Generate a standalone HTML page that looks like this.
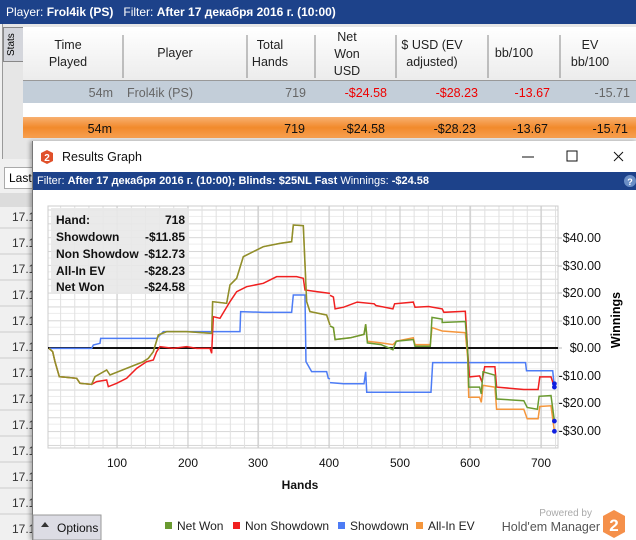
<!DOCTYPE html>
<html><head><meta charset="utf-8"><style>
body{margin:0;width:636px;height:540px;overflow:hidden;background:#f0f0f0;font-family:"Liberation Sans",sans-serif;position:relative}
.a{position:absolute}
</style></head><body>
<div class="a" style="left:0;top:0;width:636px;height:24px;background:#1d428a;color:#fff;font-size:12px;line-height:24px;padding-left:6px">Player: <b>Frol4ik (PS)</b>&nbsp;&nbsp; Filter: <b>After 17 декабря 2016 г. (10:00)</b></div>
<div class="a" style="left:2px;top:24px;width:634px;height:135px;background:#e6e6e6;border-left:1px solid #999"></div>
<div class="a" style="left:3px;top:27px;width:19px;height:33px;background:#d4d6dc;border:1px solid #888"></div>
<div class="a" style="font-size:10px;transform:rotate(-90deg);transform-origin:left top;top:56px;left:6px">Stats</div>
<div class="a" style="left:23px;top:27px;width:613px;height:53px;background:linear-gradient(#fff,#ececec);border-bottom:1px solid #999"></div>
<div class="a" style="left:23px;top:81px;width:613px;height:22px;background:#c3ced9"></div>
<div class="a" style="left:23px;top:103px;width:613px;height:14px;background:#fff"></div>
<div class="a" style="left:23px;top:117px;width:613px;height:21px;background:linear-gradient(#f8b070,#f28a2c 50%,#f7a050)"></div>
<svg class="a" style="left:0;top:0" width="636" height="140">
<g stroke="#888"><line x1="123" y1="35" x2="123" y2="78"/><line x1="247" y1="35" x2="247" y2="78"/><line x1="315" y1="35" x2="315" y2="78"/><line x1="396" y1="35" x2="396" y2="78"/><line x1="488" y1="35" x2="488" y2="78"/><line x1="560" y1="35" x2="560" y2="78"/></g>
<g font-family="Liberation Sans" font-size="12.5" fill="#222" text-anchor="middle">
<text x="68" y="49">Time</text><text x="68" y="66">Played</text>
<text x="175" y="57">Player</text>
<text x="270" y="49">Total</text><text x="270" y="66">Hands</text>
<text x="347" y="41">Net</text><text x="347" y="58">Won</text><text x="347" y="75">USD</text>
<text x="432" y="49">$ USD (EV</text><text x="432" y="66">adjusted)</text>
<text x="514" y="57">bb/100</text>
<text x="590" y="49">EV</text><text x="590" y="66">bb/100</text>
</g>
<g font-family="Liberation Sans" font-size="12.5" text-anchor="end">
<text x="113" y="97" fill="#666">54m</text><text x="127" y="97" fill="#666" text-anchor="start">Frol4ik (PS)</text><text x="306" y="97" fill="#666">719</text>
<text x="387" y="97" fill="#e00">-$24.58</text><text x="478" y="97" fill="#e00">-$28.23</text><text x="550" y="97" fill="#e00">-13.67</text><text x="630" y="97" fill="#666">-15.71</text>
<text x="112" y="133" fill="#111">54m</text><text x="305" y="133" fill="#111">719</text><text x="385" y="133" fill="#111">-$24.58</text><text x="476" y="133" fill="#111">-$28.23</text><text x="548" y="133" fill="#111">-13.67</text><text x="628" y="133" fill="#111">-15.71</text>
</g></svg>
<div class="a" style="left:0;top:160px;width:32px;height:380px;background:#f0f0f0"></div>
<div class="a" style="left:4px;top:167px;width:40px;height:20px;background:#fff;border:1px solid #aaa;font-size:12px;line-height:20px;padding-left:4px">Last</div>
<div class="a" style="left:0;top:193px;width:32px;height:14px;background:#dcdcdc"></div>
<svg class="a" style="left:0;top:205px" width="32" height="335"><g font-family="Liberation Sans" font-size="12" fill="#333">
<text x="12" y="16">17.1</text><text x="12" y="42">17.1</text><text x="12" y="68">17.1</text><text x="12" y="94">17.1</text><text x="12" y="120">17.1</text><text x="12" y="146">17.1</text><text x="12" y="172">17.1</text><text x="12" y="198">17.1</text><text x="12" y="224">17.1</text><text x="12" y="250">17.1</text><text x="12" y="276">17.1</text><text x="12" y="302">17.1</text><text x="12" y="328">17.1</text></g>
<g stroke="#ccc"><line x1="0" y1="23" x2="32" y2="23"/><line x1="0" y1="49" x2="32" y2="49"/><line x1="0" y1="75" x2="32" y2="75"/><line x1="0" y1="101" x2="32" y2="101"/><line x1="0" y1="127" x2="32" y2="127"/><line x1="0" y1="153" x2="32" y2="153"/><line x1="0" y1="179" x2="32" y2="179"/><line x1="0" y1="205" x2="32" y2="205"/><line x1="0" y1="231" x2="32" y2="231"/><line x1="0" y1="257" x2="32" y2="257"/><line x1="0" y1="283" x2="32" y2="283"/><line x1="0" y1="309" x2="32" y2="309"/></g></svg>
<div class="a" style="left:32px;top:141px;width:604px;height:399px;background:#fff;border-left:1px solid #777;box-shadow:-2px 0 4px rgba(0,0,0,.3)"></div>
<div class="a" style="left:33px;top:172px;width:603px;height:18px;background:#1d428a;color:#fff;font-size:11px;line-height:18px;padding-left:4px">Filter: <b>After 17 декабря 2016 г. (10:00); Blinds: $25NL Fast</b> Winnings: <b>-$24.58</b></div>
<svg class="a" style="left:0;top:0" width="636" height="540">
<polygon points="47,150 53,153 53,161 47,164 41,161 41,153" fill="#e0502a"/><text x="47" y="161" font-size="10" font-weight="bold" fill="#fff" text-anchor="middle" font-family="Liberation Sans">2</text>
<text x="62" y="161" font-size="12.5" fill="#111" font-family="Liberation Sans">Results Graph</text>
<line x1="522" y1="157" x2="534" y2="157" stroke="#111"/><rect x="567" y="151" width="10" height="10" fill="none" stroke="#111"/>
<path d="M614,152 L623,161 M623,152 L614,161" stroke="#111"/>
<circle cx="630" cy="181" r="6" fill="#6b8fc6"/><text x="630" y="185" font-size="9" fill="#fff" text-anchor="middle" font-weight="bold">?</text>
<defs><pattern id="hg" x="0" y="348" width="600" height="13.85" patternUnits="userSpaceOnUse">
<line x1="0" y1="6.92" x2="600" y2="6.92" stroke="#ececec"/><line x1="0" y1="0.5" x2="600" y2="0.5" stroke="#d6d6d6"/></pattern>
<pattern id="vg" x="46" y="0" width="14.14" height="300" patternUnits="userSpaceOnUse"><line x1="0.5" y1="0" x2="0.5" y2="300" stroke="#e0e0e0"/></pattern></defs>
<rect x="48" y="206" width="510" height="242" fill="url(#hg)"/>
<rect x="48" y="206" width="510" height="242" fill="url(#vg)"/>
<g stroke="#c8c8c8"><line x1="117" y1="206" x2="117" y2="448"/><line x1="188" y1="206" x2="188" y2="448"/><line x1="258" y1="206" x2="258" y2="448"/><line x1="329" y1="206" x2="329" y2="448"/><line x1="400" y1="206" x2="400" y2="448"/><line x1="470" y1="206" x2="470" y2="448"/><line x1="541" y1="206" x2="541" y2="448"/></g>
<rect x="48" y="206" width="510" height="242" fill="none" stroke="#ccc"/>
<g stroke="#bbb"><line x1="558" y1="238" x2="562" y2="238"/><line x1="558" y1="266" x2="562" y2="266"/><line x1="558" y1="293" x2="562" y2="293"/><line x1="558" y1="321" x2="562" y2="321"/><line x1="558" y1="348" x2="562" y2="348"/><line x1="558" y1="376" x2="562" y2="376"/><line x1="558" y1="403" x2="562" y2="403"/><line x1="558" y1="431" x2="562" y2="431"/></g>
<rect x="51" y="208" width="138" height="86" fill="#e8e8e8" opacity=".9"/>
<g font-family="Liberation Sans" font-size="12" font-weight="bold" fill="#111">
<text x="56" y="224">Hand:</text><text x="56" y="241">Showdown</text><text x="56" y="258">Non Showdow</text><text x="56" y="275">All-In EV</text><text x="56" y="291">Net Won</text>
<g text-anchor="end"><text x="185" y="224">718</text><text x="185" y="241">-$11.85</text><text x="185" y="258">-$12.73</text><text x="185" y="275">-$28.23</text><text x="185" y="291">-$24.58</text></g></g>
<line x1="48" y1="348" x2="558" y2="348" stroke="#111" stroke-width="2"/>
<g fill="none" stroke-width="1.5">
<g transform="translate(30,195) scale(0.3333)">
<polyline vector-effect="non-scaling-stroke" stroke="#4d7cf5" points="57,460 185,460 190,450 210,445 212,430 380,430 390,420 400,410 630,410 632,350 700,352 785,352 790,300 825,300 828,500 845,530 890,530 895,550 900,552"/>
<polyline vector-effect="non-scaling-stroke" stroke="#f02020" points="57,460 68,470 75,500 88,545 140,550 150,565 185,568 200,560 230,555 235,575 260,565 290,550 320,520 350,500 370,495 380,470 390,455 430,460 470,455 500,460 540,460 545,475 550,365 570,370 600,320 620,290 650,275 700,265 740,245 800,245 820,250 825,285 860,290 900,295"/>
<polyline vector-effect="non-scaling-stroke" stroke="#f5963c" points="57,460 68,470 75,500 88,545 140,550 150,565 185,568 195,545 230,525 240,540 290,520 340,500 355,490 370,470 385,420 410,410 470,410 545,415 548,320 590,325 600,270 620,250 640,185 700,155 750,145 785,140 790,90 820,92 830,320 840,350 890,360 900,390"/>
<polyline vector-effect="non-scaling-stroke" stroke="#7a8f2a" opacity=".85" points="57,460 68,470 75,500 88,545 140,550 150,565 185,568 195,545 230,525 240,540 290,520 340,500 355,490 370,470 385,420 410,410 470,410 545,415 548,320 590,325 600,270 620,250 640,185 700,155 750,145 785,140 790,90 820,92 830,320 840,350 890,360 900,390"/>
</g>
<g transform="translate(330,195) scale(0.34)">
<polyline vector-effect="non-scaling-stroke" stroke="#4d7cf5" points="0,552 40,555 100,555 105,520 108,580 297,580 302,493 575,493 578,517 655,517 660,565"/>
<polyline vector-effect="non-scaling-stroke" stroke="#f02020" points="0,295 10,300 15,335 40,330 80,315 130,320 135,325 185,335 190,320 245,315 250,330 290,328 330,335 335,345 398,342 405,460 410,535 440,532 447,550 455,505 485,505 490,565 570,572 612,572 617,535 650,535 660,565"/>
<polyline vector-effect="non-scaling-stroke" stroke="#f5963c" points="0,385 10,390 15,425 60,420 100,410 105,380 110,430 150,435 185,440 195,430 245,420 250,440 295,440 300,390 330,400 398,405 405,480 408,595 440,595 445,610 450,560 485,565 490,630 570,630 580,658 612,658 617,622 650,620 660,695"/>
<polyline vector-effect="non-scaling-stroke" stroke="#6a9a30" points="0,385 10,390 15,425 60,420 100,410 105,380 110,435 150,440 185,455 195,430 245,425 250,445 295,445 300,360 330,365 330,375 398,372 405,460 408,565 440,565 445,585 450,520 485,530 490,600 570,605 580,625 610,630 615,592 650,590 660,665"/>
<g fill="#1020e0" stroke="none"><circle cx="660" cy="565" r="7"/><circle cx="660" cy="555" r="7"/><circle cx="660" cy="665" r="7"/><circle cx="660" cy="695" r="7"/></g>
</g></g>
<g font-family="Liberation Sans" font-size="12.5" fill="#111" text-anchor="end">
<text x="601" y="242">$40.00</text><text x="601" y="270">$30.00</text><text x="601" y="297">$20.00</text><text x="601" y="325">$10.00</text><text x="601" y="352">$0.00</text><text x="601" y="380">-$10.00</text><text x="601" y="407">-$20.00</text><text x="601" y="435">-$30.00</text></g>
<g font-family="Liberation Sans" font-size="12" fill="#111" text-anchor="middle">
<text x="117" y="467">100</text><text x="188" y="467">200</text><text x="258" y="467">300</text><text x="329" y="467">400</text><text x="400" y="467">500</text><text x="470" y="467">600</text><text x="541" y="467">700</text>
<text x="300" y="489" font-weight="bold">Hands</text></g>
<text transform="translate(620,320) rotate(-90)" text-anchor="middle" font-family="Liberation Sans" font-size="12.5" font-weight="bold">Winnings</text>
<rect x="33" y="515" width="68" height="25" fill="#dcdce4" stroke="#999"/>
<path d="M41,527 L45,522 L49,527Z" fill="#333"/>
<text x="57" y="532" font-family="Liberation Sans" font-size="12" fill="#111">Options</text>
<g font-family="Liberation Sans" font-size="12" fill="#222">
<rect x="165" y="522" width="7" height="7" fill="#6a9a30"/><text x="177" y="530">Net Won</text>
<rect x="233" y="522" width="7" height="7" fill="#f02020"/><text x="245" y="530">Non Showdown</text>
<rect x="338" y="522" width="7" height="7" fill="#4d7cf5"/><text x="350" y="530">Showdown</text>
<rect x="416" y="522" width="7" height="7" fill="#f5963c"/><text x="428" y="530">All-In EV</text>
<text x="592" y="516" font-size="10" fill="#aaa" text-anchor="end">Powered by</text>
<text x="600" y="531" font-size="12.5" fill="#555" text-anchor="end">Hold'em Manager</text></g>
<polygon points="614,510 625,516 625,532 614,538 603,532 603,516" fill="#f5904a"/>
<text x="614" y="531" font-family="Liberation Sans" font-size="17" font-weight="bold" fill="#fff" text-anchor="middle">2</text>
</svg>
</body></html>
